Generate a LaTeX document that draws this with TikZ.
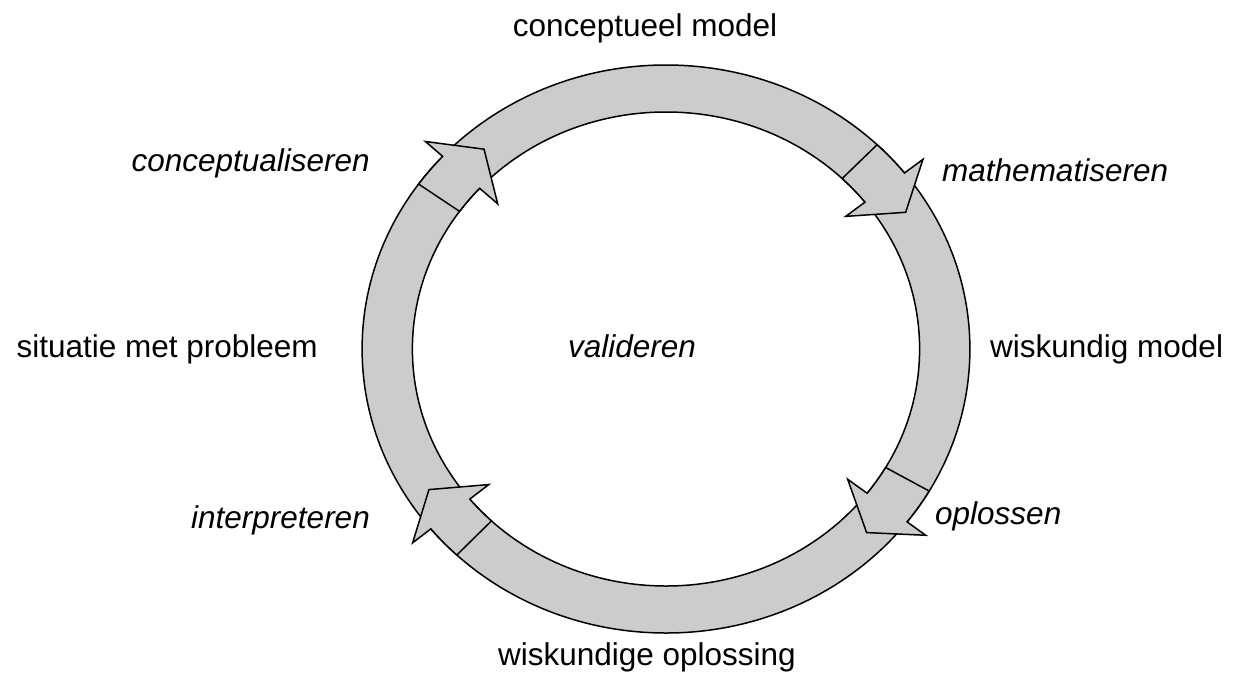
\documentclass[tikz,border=0pt]{standalone}
\usepackage{fontspec}
\setmainfont{Liberation Sans}
\definecolor{ringgrey}{RGB}{204,204,204}
\begin{document}
\begin{tikzpicture}[x=1pt,y=-1pt,
  lbl/.style={font=\fontsize{31.5}{37}\selectfont, inner sep=0pt},
  ilbl/.style={font=\fontsize{31.5}{37}\selectfont\itshape, inner sep=0pt},
  ringstyle/.style={fill=ringgrey, draw=black, line width=1.5pt, even odd rule},
  arrowstyle/.style={fill=ringgrey, draw=black, line width=1.5pt, line join=miter}]
\useasboundingbox (0,0) rectangle (1233,675);
% ring
\path[ringstyle] (666,349) ellipse [x radius=303.9pt, y radius=284pt]
                 (666,349) ellipse [x radius=253.6pt, y radius=237pt];
% block arrows on the ring
\begin{scope}[shift={(666,349)}, xscale=1.07]
\foreach \b/\n in {144.5/137.3, 46/38.3, -30/-37.5, 226.5/219.3} {
  \path[arrowstyle] (\b:284pt) -- plot[domain=\b:\n, samples=8] (\x:284pt)
     -- (\n:306pt) -- (\n-6.9:262.4pt) -- (\n:214pt)
     -- plot[domain=\n:\b, samples=8] (\x:237pt) -- cycle;
}
\end{scope}
% labels
\node[lbl, anchor=base] (cm) at (645,36) {conceptueel\ model};
\node[ilbl, anchor=base east] (cz) at (370,171) {conceptualiseren};
\node[ilbl, anchor=base west] (mz) at (942,181) {mathematiseren};
\node[lbl, anchor=base east] (sp) at (318,357) {situatie met probleem};
\node[ilbl, anchor=base] (va) at (632,357) {valideren};
\node[lbl, anchor=base west] (wm) at (990,357) {wiskundig model};
\node[ilbl, anchor=base east] (ip) at (370,528) {interpreteren};
\node[ilbl, anchor=base west] (op) at (935,524) {oplossen};
\node[lbl, anchor=base] (wo) at (647,665) {wiskundige oplossing};
\end{tikzpicture}
\end{document}
